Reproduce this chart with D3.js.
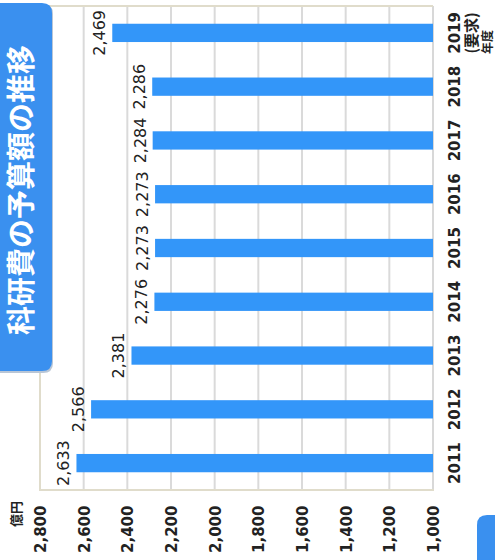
<!DOCTYPE html>
<html><head><meta charset="utf-8">
<script src="https://cdn.jsdelivr.net/npm/d3@7"></script>
<style>
html,body{margin:0;padding:0;background:#fff;}
svg{display:block;}
</style></head>
<body>
<svg id="c" width="495" height="560"></svg>
<script>
const years = ["2011","2012","2013","2014","2015","2016","2017","2018","2019"];
const budgets = [2633, 2566, 2381, 2276, 2273, 2273, 2284, 2286, 2469];
const valueTicks = [2800, 2600, 2400, 2200, 2000, 1800, 1600, 1400, 1200, 1000];
const titleText = "科研費の予算額の推移";
const unitText = "億円";
const yearUnit = "年度";
const requestNote = "(要求)";

const svg = d3.select("#c");
const L = 40, R = 433, T = 6, B = 490;
const x = d3.scaleLinear().domain([1000, 2800]).range([R, L]);
const y = d3.scaleBand().domain(years).range([B, T]).paddingInner(0.66).paddingOuter(0.33);
const num = d3.format(",");
const latin = "'DejaVu Sans', sans-serif";
const cjk = "'Noto Sans CJK JP', sans-serif";

// gridlines
svg.append("g").selectAll("line").data(valueTicks.filter(v => v > 1000 && v < 2800)).join("line")
  .attr("x1", d => x(d)).attr("x2", d => x(d)).attr("y1", T).attr("y2", B)
  .attr("stroke", "#dadada").attr("stroke-width", 2);

// frame
svg.append("line").attr("x1", R).attr("x2", R).attr("y1", T).attr("y2", B).attr("stroke", "#d8d8d8").attr("stroke-width", 2);
svg.append("line").attr("x1", L).attr("x2", R).attr("y1", T).attr("y2", T).attr("stroke", "#e0dccb").attr("stroke-width", 2);
svg.append("line").attr("x1", L).attr("x2", R + 1).attr("y1", B).attr("y2", B).attr("stroke", "#e0dccb").attr("stroke-width", 2);
svg.append("line").attr("x1", L).attr("x2", L).attr("y1", T).attr("y2", B + 1).attr("stroke", "#e0dccb").attr("stroke-width", 2);

// bars
svg.append("g").selectAll("rect").data(years).join("rect")
  .attr("x", (d, i) => x(budgets[i]))
  .attr("width", (d, i) => x(1000) - x(budgets[i]))
  .attr("y", d => y(d)).attr("height", y.bandwidth())
  .attr("fill", "#3396f9");

// value labels
svg.append("g").selectAll("text").data(years).join("text")
  .attr("transform", (d, i) => `translate(${x(budgets[i]) - 7},${y(d) + y.bandwidth() / 2}) rotate(-90)`)
  .attr("text-anchor", "middle")
  .attr("font-family", latin).attr("font-size", 16).attr("fill", "#222")
  .text((d, i) => num(budgets[i]));

// value axis (bottom)
const gx = svg.append("g").attr("transform", `translate(0,${B})`)
  .call(d3.axisBottom(x).tickValues(valueTicks).tickFormat(num).tickSize(0));
gx.select(".domain").remove();
gx.selectAll("text")
  .attr("x", 0).attr("y", 0).attr("dy", "0.36em")
  .attr("transform", "translate(0,63) rotate(-90)")
  .attr("text-anchor", "start")
  .attr("font-family", latin).attr("font-size", 15).attr("font-weight", "bold").attr("fill", "#222");

// year axis (right)
const gy = svg.append("g").attr("transform", `translate(${R},0)`)
  .call(d3.axisRight(y).tickSize(0));
gy.select(".domain").remove();
gy.selectAll("text")
  .attr("x", 0).attr("y", 0).attr("dy", "0.36em")
  .attr("transform", "translate(22,0) rotate(-90)")
  .attr("text-anchor", "middle")
  .attr("font-family", latin).attr("font-size", 15).attr("font-weight", "bold").attr("fill", "#222");

// 2019 request note and year unit
const c19 = y("2019") + y.bandwidth() / 2;
svg.append("text").attr("transform", `translate(472,${c19}) rotate(-90)`)
  .attr("text-anchor", "middle").attr("dy", "0.36em")
  .attr("font-family", cjk).attr("font-size", 15).attr("font-weight", "bold").attr("fill", "#222")
  .text(requestNote);
svg.append("text").attr("transform", `translate(488,54) rotate(-90)`)
  .attr("text-anchor", "start").attr("dy", "0.36em")
  .attr("font-family", cjk).attr("font-size", 12).attr("font-weight", "bold").attr("fill", "#222")
  .text(yearUnit);

// unit label
svg.append("text").attr("transform", `translate(16,527) rotate(-90)`)
  .attr("text-anchor", "start").attr("dy", "0.36em")
  .attr("font-family", cjk).attr("font-size", 13).attr("font-weight", "bold").attr("fill", "#222")
  .text(unitText);

// title box (right corners rounded)
function boxPath(x0, y0, w, h, r) {
  return `M${x0},${y0} H${x0 + w - r} Q${x0 + w},${y0} ${x0 + w},${y0 + r} V${y0 + h - r} Q${x0 + w},${y0 + h} ${x0 + w - r},${y0 + h} H${x0} Z`;
}
svg.append("path").attr("d", boxPath(0, 4, 53, 369, 10)).attr("fill", "#b9c6d6");
svg.append("path").attr("d", boxPath(0, 3, 52, 368, 10)).attr("fill", "#3a90ef");
svg.append("text").attr("transform", `translate(22,190) rotate(-90)`)
  .attr("text-anchor", "middle").attr("dy", "0.36em")
  .attr("font-family", cjk).attr("font-size", 29).attr("font-weight", "bold").attr("fill", "#fff")
  .text(titleText);

// bottom-right box
svg.append("path").attr("d", "M477,560 V525 Q477,515 487,515 H495 V560 Z").attr("fill", "#3a90ef");
</script>
</body></html>
